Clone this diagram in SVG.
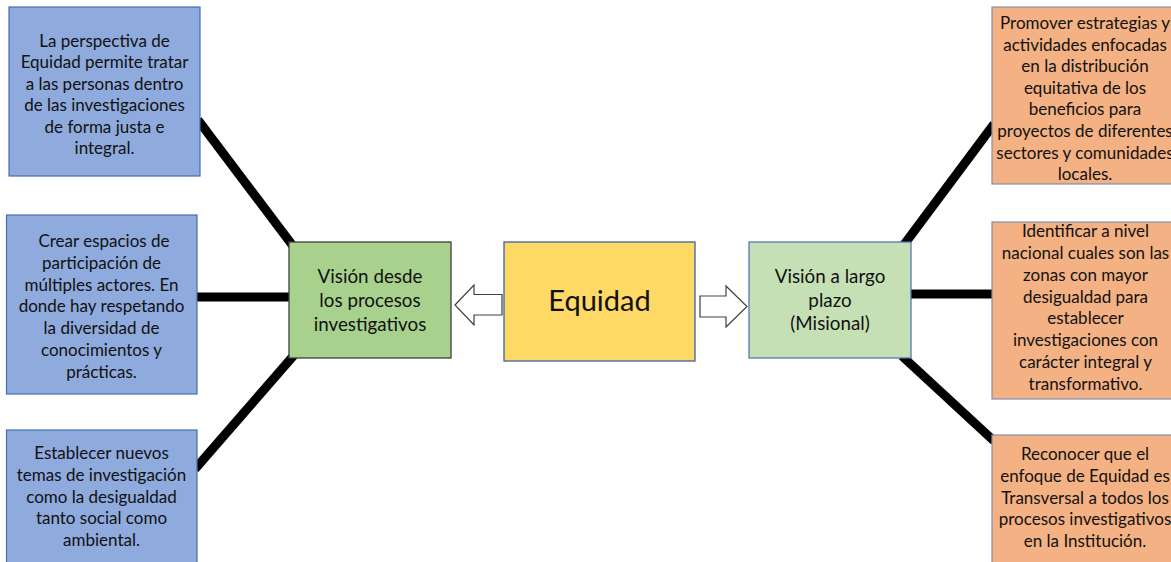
<svg xmlns="http://www.w3.org/2000/svg" width="1171" height="562" viewBox="0 0 1171 562">
<style>
.t{font-family:Lato,"Open Sans","Liberation Sans",sans-serif;font-size:17px;fill:#111;text-anchor:middle}
.g{font-size:18.8px}
.big{font-size:29px}
.blue{fill:#8FAADC;stroke:#4A6DB0;stroke-width:1.2}
.orange{fill:#F4B183;stroke:#7F8FB0;stroke-width:1.2}
.conn{stroke:#000;stroke-width:9;fill:none}
.barrow{fill:#fff;stroke:#404040;stroke-width:1.2}
</style>
<rect width="1171" height="562" fill="#fff"/>
<g id="connectors">
<line class="conn" x1="198" y1="120" x2="293" y2="246"/>
<line class="conn" x1="195" y1="297" x2="292" y2="297"/>
<line class="conn" x1="195" y1="469" x2="295" y2="354"/>
<line class="conn" x1="994" y1="124" x2="903" y2="246"/>
<line class="conn" x1="908" y1="294" x2="994" y2="294"/>
<line class="conn" x1="902" y1="356" x2="994" y2="441"/>
<path class="barrow" d="M455,305 L474,285 L474,294.5 L502,294.5 L502,315 L474,315 L474,325 Z"/>
<path class="barrow" d="M700,296 L726,296 L726,286 L747,306.5 L726,327 L726,317 L700,317 Z"/>
</g>
<g id="n-left1">
<rect class="blue" x="9" y="7" width="191" height="169"/>
<text class="t" x="104.5"><tspan x="104.5" y="46.5">La perspectiva de</tspan><tspan x="104.5" y="68">Equidad permite tratar</tspan><tspan x="104.5" y="89.5">a las personas dentro</tspan><tspan x="104.5" y="111">de las investigaciones</tspan><tspan x="104.5" y="132.5">de forma justa e</tspan><tspan x="104.5" y="154">integral.</tspan></text>
</g>
<g id="n-left2">
<rect class="blue" x="6.5" y="215" width="190.5" height="179"/>
<text class="t"><tspan x="104" y="247">Crear espacios de</tspan><tspan x="101.5" y="268.8">participación de</tspan><tspan x="101.5" y="290.6">múltiples actores. En</tspan><tspan x="101.5" y="312.4">donde hay respetando</tspan><tspan x="101.5" y="334.2">la diversidad de</tspan><tspan x="101.5" y="356">conocimientos y</tspan><tspan x="101.5" y="377.8">prácticas.</tspan></text>
</g>
<g id="n-left3">
<rect class="blue" x="6.5" y="430" width="190.5" height="140"/>
<text class="t"><tspan x="101.5" y="459">Establecer nuevos</tspan><tspan x="101.5" y="480.8">temas de investigación</tspan><tspan x="101.5" y="502.6">como la desigualdad</tspan><tspan x="101.5" y="524.4">tanto social como</tspan><tspan x="101.5" y="546.2">ambiental.</tspan></text>
</g>
<g id="n-vision-proc">
<rect x="289" y="242" width="162" height="116" fill="#A9D18E" stroke="#3F3F3F" stroke-width="1.3"/>
<text class="t g"><tspan x="370" y="283">Visión desde</tspan><tspan x="370" y="307">los procesos</tspan><tspan x="370" y="331">investigativos</tspan></text>
</g>
<g id="n-equidad">
<rect x="504" y="242" width="191" height="119" fill="#FFD966" stroke="#3B62A8" stroke-width="1.3"/>
<text class="t big" x="599.5" y="311">Equidad</text>
</g>
<g id="n-vision-largo">
<rect x="749" y="242" width="162" height="116" fill="#C5E0B4" stroke="#4A6DB0" stroke-width="1.2"/>
<text class="t g"><tspan x="830" y="283">Visión a largo</tspan><tspan x="830" y="306.5">plazo</tspan><tspan x="830" y="330">(Misional)</tspan></text>
</g>
<g id="n-right1">
<rect class="orange" x="992" y="7" width="190" height="177"/>
<text class="t"><tspan x="1085" y="29">Promover estrategias y</tspan><tspan x="1085" y="50.6">actividades enfocadas</tspan><tspan x="1085" y="72.2">en la distribución</tspan><tspan x="1085" y="93.8">equitativa de los</tspan><tspan x="1085" y="115.4">beneficios para</tspan><tspan x="1085" y="137">proyectos de diferentes</tspan><tspan x="1085" y="158.6">sectores y comunidades</tspan><tspan x="1085" y="180.2">locales.</tspan></text>
</g>
<g id="n-right2">
<rect class="orange" x="992" y="222" width="190" height="177"/>
<text class="t"><tspan x="1085.5" y="237">Identificar a nivel</tspan><tspan x="1085.5" y="258.9">nacional cuales son las</tspan><tspan x="1085.5" y="280.7">zonas con mayor</tspan><tspan x="1085.5" y="302.6">desigualdad para</tspan><tspan x="1085.5" y="324.4">establecer</tspan><tspan x="1085.5" y="346.3">investigaciones con</tspan><tspan x="1085.5" y="368.1">carácter integral y</tspan><tspan x="1085.5" y="390">transformativo.</tspan></text>
</g>
<g id="n-right3">
<rect class="orange" x="992" y="435" width="190" height="140"/>
<text class="t"><tspan x="1085" y="460">Reconocer que el</tspan><tspan x="1085" y="481.8">enfoque de Equidad es</tspan><tspan x="1085" y="503.5">Transversal a todos los</tspan><tspan x="1085" y="525.3">procesos investigativos</tspan><tspan x="1085" y="547">en la Institución.</tspan></text>
</g>
</svg>
